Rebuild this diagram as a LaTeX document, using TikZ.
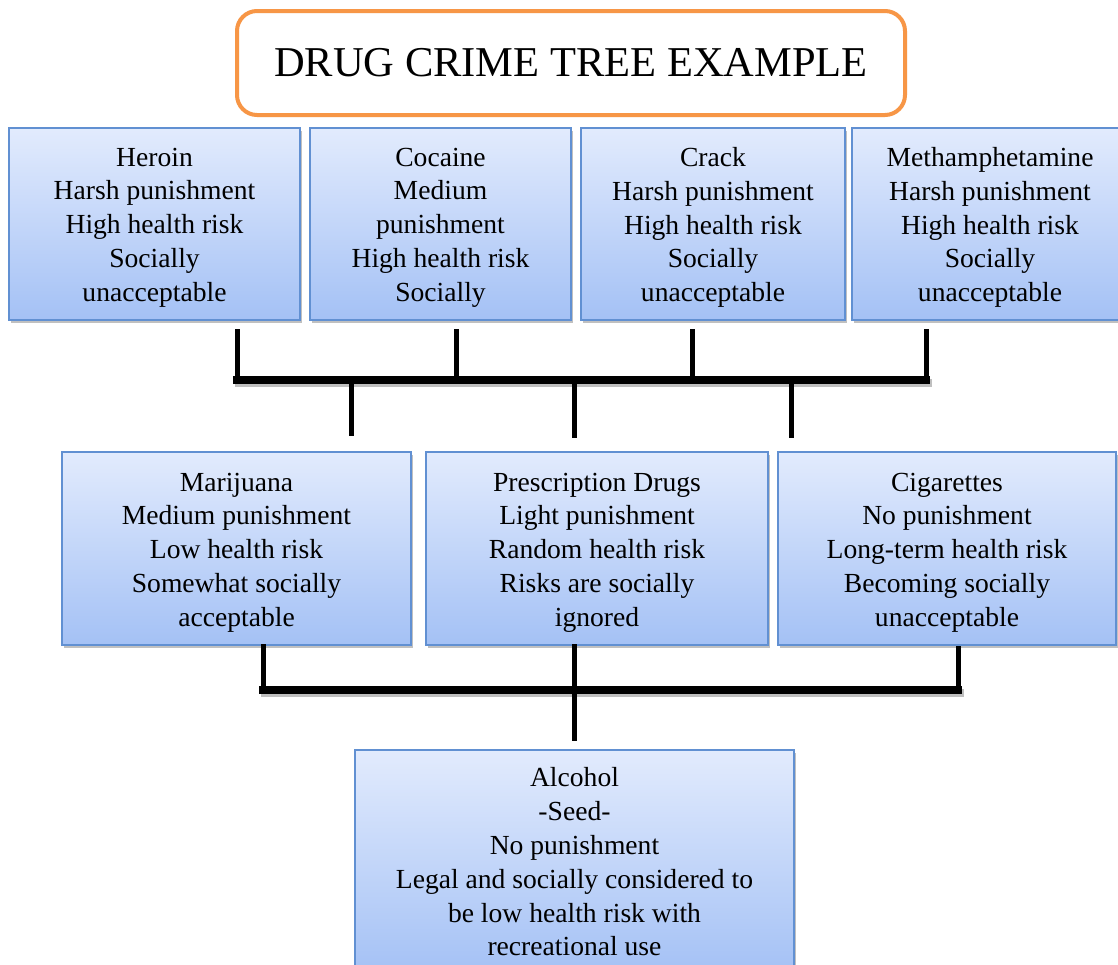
\documentclass[tikz,border=0pt]{standalone}
\usepackage{fontspec}
\setmainfont{Liberation Serif}
\usetikzlibrary{shadows}
\definecolor{boxtop}{HTML}{E2EBFD}
\definecolor{boxbot}{HTML}{A4C1F5}
\definecolor{boxline}{HTML}{6190D2}
\definecolor{titleline}{HTML}{F79646}
\begin{document}
\begin{tikzpicture}[x=1pt,y=-1pt,
  drugbox/.style={draw=boxline, line width=1.3pt, top color=boxtop, bottom color=boxbot,
    inner sep=0pt,
    drop shadow={shadow xshift=1.5pt, shadow yshift=-3pt, opacity=0.35, fill=black!70}},
  boxtext/.style={align=center, inner sep=0pt, font=\fontsize{27.6}{33.8}\selectfont},
  titlebox/.style={draw=titleline, line width=4pt, rounded corners=20pt, fill=white,
    align=center, inner sep=0pt, font=\fontsize{42.5}{50}\selectfont},
  vline/.style={line width=5pt, black, line cap=rect},
  hline/.style={line width=8pt, black, line cap=rect}]
\useasboundingbox (0,0) rectangle (1118,964);
\clip (0,0) rectangle (1118,964);
\fill[white] (0,0) rectangle (1118,964);

% title
\node[titlebox, minimum width=668pt, minimum height=104pt] (title) at (571,63) {DRUG CRIME TREE EXAMPLE};

% top row
\node[drugbox, minimum width=291pt, minimum height=192pt] (heroin) at (154.5,224) {};
\node[boxtext] (heroinT) at ([yshift=-3.5pt]heroin.center)
  {Heroin\\Harsh punishment\\High health risk\\Socially\\unacceptable};
\node[drugbox, minimum width=261pt, minimum height=192pt] (cocaine) at (440.5,224) {};
\node[boxtext] (cocaineT) at ([yshift=-3.5pt]cocaine.center)
  {Cocaine\\Medium\\punishment\\High health risk\\Socially};
\node[drugbox, minimum width=264pt, minimum height=192pt] (crack) at (713,224) {};
\node[boxtext] (crackT) at ([yshift=-3.5pt]crack.center)
  {Crack\\Harsh punishment\\High health risk\\Socially\\unacceptable};
\node[drugbox, minimum width=276pt, minimum height=192pt] (meth) at (990,224) {};
\node[boxtext] (methT) at ([yshift=-3.5pt]meth.center)
  {Methamphetamine\\Harsh punishment\\High health risk\\Socially\\unacceptable};

% middle row
\node[drugbox, minimum width=349pt, minimum height=193pt] (marijuana) at (236.5,548.5) {};
\node[boxtext] (marijuanaT) at ([yshift=-4pt]marijuana.center)
  {Marijuana\\Medium punishment\\Low health risk\\Somewhat socially\\acceptable};
\node[drugbox, minimum width=342pt, minimum height=193pt] (prescription) at (597,548.5) {};
\node[boxtext] (prescriptionT) at ([yshift=-4pt]prescription.center)
  {Prescription Drugs\\Light punishment\\Random health risk\\Risks are socially\\ignored};
\node[drugbox, minimum width=338pt, minimum height=193pt] (cigarettes) at (947,548.5) {};
\node[boxtext] (cigarettesT) at ([yshift=-4pt]cigarettes.center)
  {Cigarettes\\No punishment\\Long-term health risk\\Becoming socially\\unacceptable};

% bottom
\node[drugbox, minimum width=439pt, minimum height=224pt] (alcohol) at (574.5,862) {};
\node[boxtext] (alcoholT) at ([yshift=0pt]alcohol.center)
  {Alcohol\\-Seed-\\No punishment\\Legal and socially considered to\\be low health risk with\\recreational use};

% connector coordinates (upper tree)
\coordinate (t1) at (237,331);
\coordinate (t2) at (456,331);
\coordinate (t3) at (692,331);
\coordinate (t4) at (926,331);
\coordinate (b1) at (237,380);
\coordinate (b2) at (456,380);
\coordinate (b3) at (692,380);
\coordinate (b4) at (926,380);
\coordinate (s1) at (351,380);
\coordinate (s2) at (574,380);
\coordinate (s3) at (791,380);
\coordinate (e1) at (351,433);
\coordinate (e2) at (574,435);
\coordinate (e3) at (791,435);

% connector coordinates (lower tree)
\coordinate (m1) at (263,646);
\coordinate (m2) at (574,646);
\coordinate (m3) at (958,648);
\coordinate (n1) at (263,690);
\coordinate (n2) at (574,690);
\coordinate (n3) at (958,690);
\coordinate (f2) at (574,738);

\begin{scope}[transform canvas={shift={(1.5pt,-2.5pt)}}]
  \draw[hline, black!25] (b1) -- (b4);
  \draw[hline, black!25] (n1) -- (n3);
\end{scope}

\draw[vline] (t1) -- (b1);
\draw[vline] (t2) -- (b2);
\draw[vline] (t3) -- (b3);
\draw[vline] (t4) -- (b4);
\draw[vline] (s1) -- (e1);
\draw[vline] (s2) -- (e2);
\draw[vline] (s3) -- (e3);
\draw[hline] (b1) -- (b4);

\draw[vline] (m1) -- (n1);
\draw[vline] (m2) -- (f2);
\draw[vline] (m3) -- (n3);
\draw[hline] (n1) -- (n3);
\end{tikzpicture}
\end{document}
